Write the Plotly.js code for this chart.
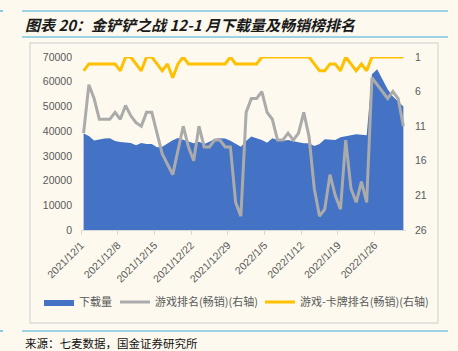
<!DOCTYPE html>
<html>
<head>
<meta charset="utf-8">
<script src="https://cdn.plot.ly/plotly-3.0.1.min.js"></script>
<style>
html,body{margin:0;padding:0;background:#fdf9ef;}
#chart{width:458px;height:351px;}
</style>
</head>
<body>
<div id="chart"></div>
<script>
const dates = [
"2021-12-01","2021-12-02","2021-12-03","2021-12-04","2021-12-05","2021-12-06","2021-12-07",
"2021-12-08","2021-12-09","2021-12-10","2021-12-11","2021-12-12","2021-12-13","2021-12-14",
"2021-12-15","2021-12-16","2021-12-17","2021-12-18","2021-12-19","2021-12-20","2021-12-21",
"2021-12-22","2021-12-23","2021-12-24","2021-12-25","2021-12-26","2021-12-27","2021-12-28",
"2021-12-29","2021-12-30","2021-12-31","2022-01-01","2022-01-02","2022-01-03","2022-01-04",
"2022-01-05","2022-01-06","2022-01-07","2022-01-08","2022-01-09","2022-01-10","2022-01-11",
"2022-01-12","2022-01-13","2022-01-14","2022-01-15","2022-01-16","2022-01-17","2022-01-18",
"2022-01-19","2022-01-20","2022-01-21","2022-01-22","2022-01-23","2022-01-24","2022-01-25",
"2022-01-26","2022-01-27","2022-01-28","2022-01-29","2022-01-30","2022-01-31"];

const downloads = [
39000,38000,36200,36700,37000,37100,36000,35600,35400,35200,34300,35200,34800,34800,
33500,33700,35000,36300,37200,36400,35700,35100,35700,34800,35700,36800,37100,37000,
36100,34800,33700,36000,37800,37100,36400,35300,37100,36400,36100,36400,36100,35500,
35100,35100,34000,34800,36700,36700,36400,37500,37800,38400,38700,38500,38300,
63000,65000,61000,57000,54000,52000,50000];

const gameRank = [
12,5,7,10,10,10,9,10,8,9.5,10.5,11,9,9,12,15,16.5,18,14.5,11,14,16,11,14,14,13,13,14,
14,22,24,9,7,7,6,9,10,13,13,12,13,12,9,12.5,20,24,23,18,21,23,13,20,22,19,22,4,5,6,7,
6,7,11];

const cardRank = [
3,2,2,2,2,2,2,3,1,1,2,3,1,1,2,3,2,4,2,1,2,2,2,2,2,2,2,2,1,2,2,2,2,2,1,1,1,1,1,1,1,1,
1,1,2,3,3,2,2,3,1,2,3,2,3,1,1,1,1,1,1,1];

const seriesNames = ["下载量","游戏排名(畅销)(右轴)","游戏-卡牌排名(畅销)(右轴)"];
const leftTicks = [0,10000,20000,30000,40000,50000,60000,70000];
const rightTicks = [1,6,11,16,21,26];
const titleText = "图表 20：金铲铲之战 12-1 月下载量及畅销榜排名";
const sourceText = "来源：七麦数据，国金证券研究所";

const DAY = 86400000;
const tickFont = {family:"Liberation Sans, Noto Sans CJK SC, sans-serif", size:10.5, color:"#595959"};

const traces = [
  {x:dates, y:downloads, name:seriesNames[0], type:"scatter", mode:"lines", legend:"legend",
   fill:"tozeroy", fillcolor:"#4472C4", line:{width:0, color:"#4472C4"},
   xperiod:DAY, xperiodalignment:"middle", hoverinfo:"skip"},
  {x:dates, y:gameRank, name:seriesNames[1], type:"scatter", mode:"lines", yaxis:"y2", legend:"legend2",
   line:{color:"#ababab", width:3}, xperiod:DAY, xperiodalignment:"middle", hoverinfo:"skip"},
  {x:dates, y:cardRank, name:seriesNames[2], type:"scatter", mode:"lines", yaxis:"y2", legend:"legend3",
   line:{color:"#FFC000", width:3}, xperiod:DAY, xperiodalignment:"middle", hoverinfo:"skip"}
];

const X = px => (px-81)/325;
const Y = py => (230-py)/173;
const lineColor = "#3fa9dc";
const legFont = {family:"Noto Sans CJK SC, sans-serif", size:11, color:"#595959"};
const mkLegend = px => ({orientation:"h", x:X(px), xanchor:"left", y:Y(302), yanchor:"middle",
  font:legFont, bgcolor:"rgba(0,0,0,0)", itemwidth:30});

const layout = {
  width:458, height:351,
  paper_bgcolor:"#fdf9ef", plot_bgcolor:"#fdf9ef",
  margin:{l:81, r:52, t:57, b:121},
  showlegend:true,
  legend:mkLegend(39),
  legend2:mkLegend(115),
  legend3:mkLegend(260),
  xaxis:{type:"date", range:["2021-12-01","2022-02-01"], tick0:"2021-12-01", dtick:7*DAY,
         tickformat:"%Y/%-m/%-d", tickangle:-45, tickfont:tickFont,
         showgrid:false, zeroline:false, showline:true, linecolor:"#d9d9d9", linewidth:1,
         ticks:"outside", ticklen:4, tickcolor:"#d9d9d9", fixedrange:true},
  yaxis:{range:[0,70000], tickvals:leftTicks, tickformat:"d", tickfont:tickFont, showgrid:false,
         zeroline:false, showline:false, ticklabelstandoff:8, fixedrange:true},
  yaxis2:{overlaying:"y", side:"right", range:[26,1], tickvals:rightTicks, tickfont:tickFont,
          showgrid:false, zeroline:false, showline:false, ticklabelstandoff:8, fixedrange:true},
  shapes:[
    {type:"rect", xref:"paper", yref:"paper", x0:X(30), x1:X(438), y0:Y(323), y1:Y(43),
     line:{color:"#dcdcdc", width:1.5}, fillcolor:"rgba(0,0,0,0)", layer:"below"},
    {type:"line", xref:"paper", yref:"paper", x0:X(22), x1:X(448), y0:Y(11), y1:Y(11),
     line:{color:lineColor, width:1.2}},
    {type:"line", xref:"paper", yref:"paper", x0:X(22), x1:X(448), y0:Y(37), y1:Y(37),
     line:{color:lineColor, width:1.2}},
    {type:"line", xref:"paper", yref:"paper", x0:X(22), x1:X(448), y0:Y(331), y1:Y(331),
     line:{color:lineColor, width:1.2}},
    {type:"line", xref:"paper", yref:"paper", x0:X(0), x1:X(3), y0:Y(11), y1:Y(11),
     line:{color:lineColor, width:1.2}},
    {type:"line", xref:"paper", yref:"paper", x0:X(0), x1:X(3), y0:Y(331), y1:Y(331),
     line:{color:lineColor, width:1.2}}
  ],
  annotations:[
    {text:"<b><i>"+titleText+"</i></b>", xref:"paper", yref:"paper", x:X(23), y:Y(24),
     xanchor:"left", yanchor:"middle", showarrow:false,
     font:{family:"Noto Sans CJK SC, sans-serif", size:15, color:"#1a1a1a"}},
    {text:sourceText, xref:"paper", yref:"paper", x:X(23), y:Y(343),
     xanchor:"left", yanchor:"middle", showarrow:false,
     font:{family:"Noto Sans CJK SC, sans-serif", size:11.5, color:"#111"}}
  ]
};

Plotly.newPlot("chart", traces, layout, {displayModeBar:false, staticPlot:true});
</script>
</body>
</html>
